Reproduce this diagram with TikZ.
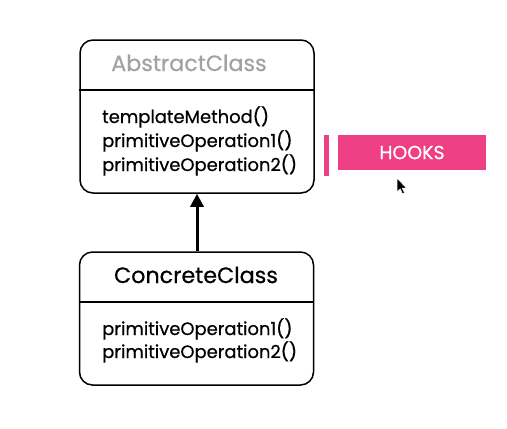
\documentclass[tikz,border=0pt]{standalone}
\usepackage{fontspec}
\setmainfont{Poppins}[RawFeature={embolden=0.6}]
\usetikzlibrary{positioning,arrows.meta}
\definecolor{hookpink}{HTML}{EE3F84}
\definecolor{titlegray}{HTML}{A2A2A2}
\begin{document}
\begin{tikzpicture}[
        x=1bp, y=-1bp,
        klasse/.style={rectangle, draw=black, line width=1.5bp, rounded corners=13bp, minimum width=234bp, inner sep=0pt},
        titel/.style={anchor=base, inner sep=0pt, font=\fontsize{22.3}{27}\selectfont},
        methode/.style={anchor=base west, inner sep=0pt, font=\fontsize{18}{24}\selectfont},
        pinkbox/.style={rectangle, fill=hookpink, inner sep=0pt},
        erbt/.style={-{Triangle[length=13bp, width=13bp]}, line width=3bp}
    ]
        \useasboundingbox (0,0) rectangle (507,428);

        % abstract class
        \node[klasse, minimum height=153bp] (abstract) at (197,116.5) {};
        \draw[line width=1.5bp] (abstract.west |- 0,90) -- (abstract.east |- 0,90);
        \node[titel, text=titlegray] (abstitle) at (189,71) {AbstractClass};
        \node[methode] (absm1) at (102,123) {templateMethod()};
        \node[methode] (absm2) at (102,147) {primitiveOperation1()};
        \node[methode] (absm3) at (102,171) {primitiveOperation2()};

        % concrete class
        \node[klasse, minimum height=133bp] (concrete) at (196.5,318.5) {};
        \draw[line width=1.5bp] (concrete.west |- 0,302) -- (concrete.east |- 0,302);
        \node[titel] (contitle) at (196,283) {ConcreteClass};
        \node[methode] (conm1) at (102,335) {primitiveOperation1()};
        \node[methode] (conm2) at (102,358) {primitiveOperation2()};

        \draw[erbt] (concrete.north -| 197,0) -- (abstract.south -| 197,0);

        % hooks
        \node[pinkbox, minimum width=5bp, minimum height=41bp] (hookbar) at (326.5,155) {};
        \node[pinkbox, minimum width=148bp, minimum height=35bp, text=white, font=\fontsize{19}{22}\selectfont] (hooks) at (412,152.5) {HOOKS};

        % cursor
        \filldraw[fill=black, draw=white, line width=0.6bp, shift={(397,178)}]
            (0,0) -- (0,14) -- (3.2,11) -- (5.6,16) -- (7.6,15) -- (5.3,10.2) -- (9.6,10.2) -- cycle;
    \end{tikzpicture}
\end{document}
